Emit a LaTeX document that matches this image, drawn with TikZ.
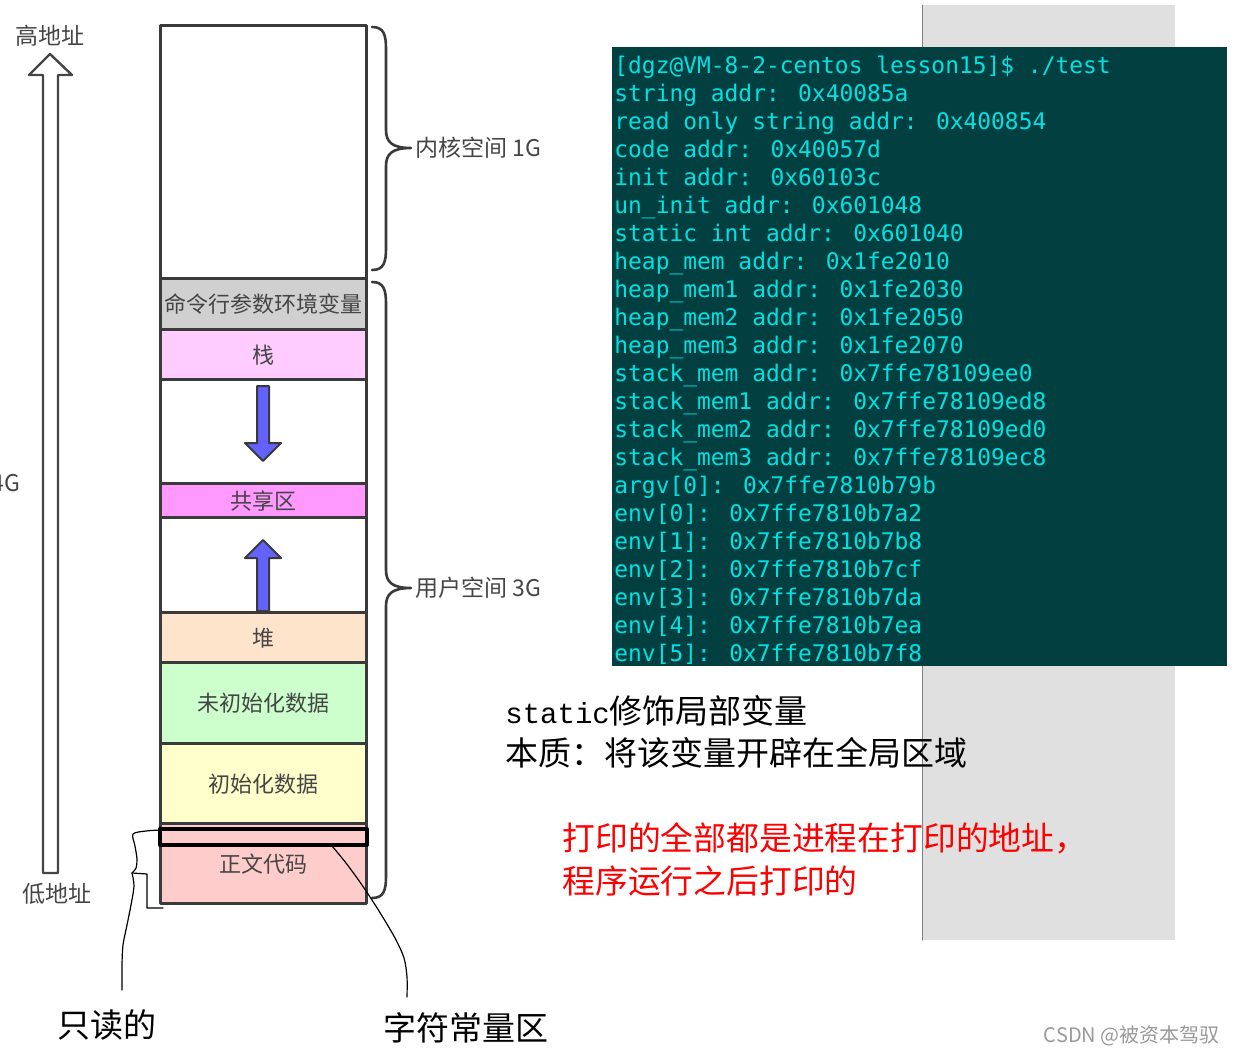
\documentclass[tikz,border=0pt]{standalone}
\usepackage{fontspec}
\newfontfamily\cjk{Noto Sans CJK SC}
\newfontfamily\term{DejaVu Sans Mono}
\newfontfamily\latinmono{Liberation Mono}
\usetikzlibrary{positioning}
\definecolor{termbg}{HTML}{013F41}
\definecolor{termfg}{HTML}{00E2E2}
\definecolor{segline}{HTML}{3A3A3A}
\definecolor{labgray}{HTML}{454545}
\definecolor{panelgray}{HTML}{E0E0E0}
\definecolor{seggray}{HTML}{D0D0D0}
\definecolor{stackpink}{HTML}{FFCCFF}
\definecolor{sharepink}{HTML}{FF99FF}
\definecolor{heappeach}{HTML}{FFE4CC}
\definecolor{bssgreen}{HTML}{CCFFCC}
\definecolor{datayellow}{HTML}{FFFFCC}
\definecolor{codepink}{HTML}{FFCCCC}
\definecolor{arrowblue}{HTML}{6262FF}
\tikzset{
 seg/.style={draw=segline,line width=1.5pt},
 lbl/.style={font=\cjk\fontsize{11}{13}\selectfont,text=labgray,inner sep=0pt},
 bluearrow/.style={fill=arrowblue,draw=segline,line width=1pt},
 hand/.style={line width=0.6pt,black},
 note/.style={font=\cjk\fontsize{16.5}{20}\selectfont,anchor=west,inner sep=0pt},
 termtxt/.style={font=\term\fontsize{11.45}{14}\selectfont,text=termfg,anchor=base west,inner sep=0pt}
}
\begin{document}
\begin{tikzpicture}[x=0.5pt,y=-0.5pt,line join=round,line cap=round]
 \useasboundingbox (0,0) rectangle (1236,1055);
 % screenshot background
 \fill[panelgray] (922,5) rectangle (1175,940);
 \draw[gray,line width=0.5pt] (922,5)--(922,940);
 \fill[termbg] (612,47) rectangle (1227,666);
 \foreach \t [count=\i from 0] in {{[dgz@VM-8-2-centos lesson15]\$ ./test},
  {string addr: 0x40085a},{read only string addr: 0x400854},{code addr: 0x40057d},
  {init addr: 0x60103c},{un\_init addr: 0x601048},{static int addr: 0x601040},
  {heap\_mem addr: 0x1fe2010},{heap\_mem1 addr: 0x1fe2030},{heap\_mem2 addr: 0x1fe2050},
  {heap\_mem3 addr: 0x1fe2070},{stack\_mem addr: 0x7ffe78109ee0},{stack\_mem1 addr: 0x7ffe78109ed8},
  {stack\_mem2 addr: 0x7ffe78109ed0},{stack\_mem3 addr: 0x7ffe78109ec8},{argv[0]: 0x7ffe7810b79b},
  {env[0]: 0x7ffe7810b7a2},{env[1]: 0x7ffe7810b7b8},{env[2]: 0x7ffe7810b7cf},
  {env[3]: 0x7ffe7810b7da},{env[4]: 0x7ffe7810b7ea},{env[5]: 0x7ffe7810b7f8}}
  \node[termtxt] (line\i) at (614,{73+28*\i}) {\t};
 % address arrow
 \draw[fill=white,draw=labgray,line width=1.2pt] (43,873)--(43,75)--(29,75)--(50,54)--(72,75)--(58,75)--(58,873)--cycle;
 \node[lbl,font=\cjk\fontsize{11.5}{13}\selectfont] (high) at (50,36) {高地址};
 \node[lbl,font=\cjk\fontsize{11.5}{13}\selectfont] (low) at (57,894) {低地址};
 \node[lbl,font=\cjk\fontsize{11.5}{13}\selectfont,anchor=east] (total) at (21,483) {4G};
 % memory column
 \foreach \n/\a/\b/\c/\t in {kern/25/278/white/{},argv/278/329/seggray/命令行参数环境变量,
  stack/329/379/stackpink/栈,gapa/379/483/white/{},share/483/517/sharepink/共享区,
  gapb/517/612/white/{},heap/612/662/heappeach/堆,bss/662/743/bssgreen/未初始化数据,
  data/743/823/datayellow/初始化数据,code/823/903/codepink/正文代码}
 {\draw[seg,fill=\c] (160,\a) rectangle (366,\b);
  \node[lbl] (\n) at (263,{(\a+\b)/2+1}) {\t};}
 \draw[bluearrow] (257,386)--(269,386)--(269,443)--(281,443)--(263,461)--(245,443)--(257,443)--cycle;
 \draw[bluearrow] (257,611)--(257,558)--(245,558)--(263,540)--(281,558)--(269,558)--(269,611)--cycle;
 % braces
 \draw[segline,line width=1.3pt] (372,27) .. controls (384,27) and (386,35) .. (386,49)--(386,130)
  .. controls (386,142) and (392,148) .. (411,148) .. controls (392,148) and (386,154) .. (386,166)
  --(386,248) .. controls (386,262) and (384,270) .. (372,270);
 \draw[segline,line width=1.3pt] (372,282) .. controls (384,282) and (386,290) .. (386,304)--(386,570)
  .. controls (386,582) and (392,588) .. (411,588) .. controls (392,588) and (386,594) .. (386,606)
  --(386,876) .. controls (386,890) and (384,898) .. (372,898);
 \node[lbl,anchor=west,font=\cjk\fontsize{11.5}{13}\selectfont] (kernsp) at (415,148) {内核空间 1G};
 \node[lbl,anchor=west,font=\cjk\fontsize{11.5}{13}\selectfont] (usersp) at (415,588) {用户空间 3G};
 % handwritten marks
 \draw[line width=2pt] (160,829) rectangle (367,845);
 \coordinate (ro) at (160,830);
 \coordinate (str) at (332,846);
 \coordinate (roend) at (122,990);
 \coordinate (strend) at (407,997);
 \draw[hand] plot[smooth] coordinates {(ro) (146,831) (133,834) (135,846) (137,859) (136,868) (132,873)};
 \draw[hand] (132,873)--(147,874)--(147,908)--(163,908);
 \draw[hand] plot[smooth] coordinates {(132,873) (134,886) (131,905) (127,925) (123,945) (122,965) (roend)};
 \draw[hand] plot[smooth] coordinates {(str) (346,863) (362,885) (379,911) (395,938) (404,958) (407,977) (strend)};
 \node[note] (rdonly) at (57,1025) {只读的};
 \node[note] (strconst) at (383,1028) {字符常量区};
 % notes
 \node[note] (stat) at (505,711) {{\latinmono\fontsize{14.5}{18}\selectfont static}修饰局部变量};
 \node[note] (essence) at (505,753) {本质：将该变量开辟在全局区域};
 \node[note,text=red,font=\cjk\fontsize{16.4}{20}\selectfont] (printa) at (562,838) {打印的全部都是进程在打印的地址，};
 \node[note,text=red,font=\cjk\fontsize{16.4}{20}\selectfont] (printb) at (562,881) {程序运行之后打印的};
 \node[lbl,text=gray!80,font=\cjk\fontsize{10}{12}\selectfont,anchor=east] (mark) at (1220,1036) {CSDN @被资本驾驭};
\end{tikzpicture}
\end{document}
